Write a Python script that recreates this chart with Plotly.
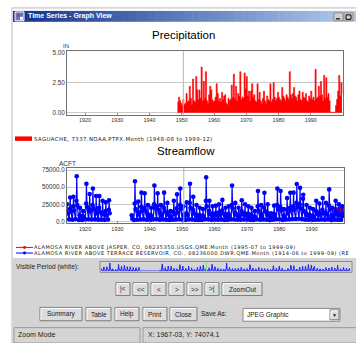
import plotly.graph_objects as go
import pandas as pd

# ---------------- data ----------------
x_tick_years = [1920, 1930, 1940, 1950, 1960, 1970, 1980, 1990]
precip_ticks = [0.0, 2.5, 5.0]
precip_ticktext = ["0.00", "2.50", "5.00"]
flow_ticks = [0, 25000, 50000, 75000]
flow_ticktext = ["0.0", "25000.0", "50000.0", "75000.0"]

# SAGUACHE precipitation, inches (4-month steps from 1948-09)
precip_start = "1948-09-01"
precip_in = [
    0.9,
    1.3, 1.0, 0.8,   # 1949
    0.6, 1.1, 0.7,   # 1950
    0.8, 1.6, 0.9,
    1.0, 2.2, 1.2,
    0.7, 2.8, 1.0,
    0.9, 3.0, 1.9,
    1.1, 1.9, 1.2,   # 1955
    3.8, 1.0, 2.6,
    1.2, 3.4, 1.0,
    0.8, 1.5, 2.2,
    1.9, 1.1, 0.9,
    1.0, 1.3, 2.4,   # 1960
    1.6, 1.0, 1.2,
    0.9, 1.7, 1.1,
    1.4, 1.5, 0.8,
    0.7, 1.2, 1.0,
    1.1, 2.3, 1.3,   # 1965
    3.2, 1.2, 2.2,
    1.0, 1.6, 1.4,
    3.4, 1.1, 1.3,
    1.2, 3.3, 2.0,
    3.0, 1.4, 1.8,   # 1970
    1.0, 1.8, 2.4,
    1.3, 1.5, 1.0,
    0.9, 2.4, 1.1,
    1.7, 1.0, 0.8,
    1.2, 1.8, 1.0,   # 1975
    0.8, 1.4, 1.1,
    1.0, 2.4, 0.9,
    1.1, 2.5, 1.3,
    1.0, 1.2, 1.7,
    1.3, 1.1, 1.0,   # 1980
    2.1, 1.4, 1.2,
    1.0, 1.5, 1.3,
    1.1, 3.4, 1.5,
    1.2, 1.6, 2.1,
    1.4, 1.3, 1.0,   # 1985
    1.5, 1.8, 1.1,
    1.0, 1.7, 1.3,
    1.2, 1.6, 1.0,
    0.9, 1.4, 1.2,
    1.8, 1.1, 1.3,   # 1990
    1.0, 3.6, 1.2,
    1.3, 2.2, 1.4,
    2.6, 1.5, 1.0,
    3.1, 1.2, 2.9,
    1.3, 1.6, 1.0,   # 1995
    0.05, 0.05, 0.05,
    0.05, 0.05, 0.6,
    1.1, 1.8, 3.1,
    1.4, 2.5, 1.6,   # 1999
]

# ALAMOSA RIVER ABOVE TERRACE RESERVOIR, acre-feet (Feb low, May rise, Jun peak, Aug fall)
sf_year = [1914, 1915, 1916, 1917, 1918, 1919, 1920, 1921, 1922, 1923, 1924, 1925, 1926, 1927,
           1934, 1935, 1936, 1937, 1938, 1939, 1940, 1941, 1942, 1943, 1944, 1945, 1946, 1947,
           1948, 1949, 1950, 1951, 1952, 1953, 1954, 1955, 1956, 1957, 1958, 1959, 1960, 1961,
           1962, 1963, 1964, 1965, 1966, 1967, 1968, 1969, 1970, 1971, 1972, 1973, 1974, 1975,
           1976, 1977, 1978, 1979, 1980, 1981, 1982, 1983, 1984, 1985, 1986, 1987, 1988, 1989,
           1990, 1991, 1992, 1993, 1994, 1995, 1996, 1997, 1998, 1999]
sf_low = [None, 3000, 2500, 3500, 2000, 2200, 3000, 3200, 2800, 3000, 2600, 2400, 2300, 2700,
          None, 2000, 2500, 2800, 3000, 2400, 2100, 3000, 3300, 2600, 2900, 2500, 2200, 2600,
          2800, 3100, 2300, 2100, 3000, 2700, 2000, 2200, 2000, 3200, 3000, 2300, 2500, 2600,
          2900, 2200, 2300, 3000, 2700, 2400, 2600, 2700, 2500, 2300, 2100, 3100, 2400, 2900,
          2500, 1900, 2400, 3200, 3100, 2200, 2800, 3200, 3500, 3600, 3800, 3300, 2600, 2400,
          2200, 2600, 2500, 2800, 2600, 3000, 2300, 2700, 2500, 2400]
sf_rise = [None, 18000, 22000, 30000, 9000, 8000, 26000, 18000, 24000, 16000, 20000, 12000, 15000, 17000,
           None, 26000, 14000, 21000, 20000, 11000, 9000, 25000, 22000, 12000, 20000, 13000, 8000, 14000,
           19000, 24000, 10000, 12000, 27000, 17000, 10000, 9000, 8500, 30000, 15000, 11000, 12000, 13000,
           16000, 10000, 11000, 24000, 13000, 9500, 15000, 12000, 11000, 10000, 7000, 22000, 11000, 20000,
           12000, 6000, 11000, 24000, 21000, 8500, 17000, 20000, 22000, 27000, 25000, 33000, 12000, 9500,
           8500, 15000, 13000, 17000, 13000, 23000, 9500, 15000, 12000, 11000]
sf_peak = [25000, 35000, 36000, 66000, 20000, 15000, 55000, 40000, 48000, 37000, 37000, 30000, 28000, 31000,
           9000, 58600, 29000, 42000, 41000, 24000, 20000, 52400, 41000, 24000, 42000, 27000, 15000, 30000,
           39500, 48000, 22000, 28000, 55000, 36000, 24000, 20000, 18000, 64300, 30000, 22000, 23000, 25000,
           31400, 20000, 22000, 52400, 27000, 20000, 31000, 25000, 22000, 20000, 15000, 44300, 24000, 41900,
           25000, 12000, 23000, 48100, 44300, 18000, 34000, 41900, 42000, 54700, 49000, 39000, 24000, 20000,
           18000, 30000, 26000, 34000, 27000, 46700, 20000, 30000, 25000, 22000]
sf_fall = [12000, 14000, 16000, 24000, 7000, 6000, 21000, 15000, 19000, 12000, 14000, 11000, 9000, 12000,
           4000, 18000, 10000, 15000, 16000, 8000, 6000, 20000, 17000, 9000, 15000, 10000, 5500, 11000,
           13000, 18000, 7000, 9000, 20000, 12000, 7000, 7500, 6000, 22000, 11000, 8000, 9000, 9500,
           12000, 7000, 8000, 19000, 10000, 7500, 11000, 9000, 8000, 7000, 5500, 16000, 8000, 15000,
           9000, 4500, 8500, 18000, 16000, 6000, 12000, 16000, 17000, 21000, 19000, 15000, 9000, 7000,
           6500, 11000, 9500, 12000, 10000, 17000, 7000, 11000, 9000, 8000]
sf_months = ["02-01", "05-01", "06-01", "08-01"]

# ALAMOSA RIVER ABOVE JASPER, acre-feet
jasper_dates = ["1995-07-01", "1995-10-01", "1996-02-01", "1996-06-01", "1996-09-01",
                "1997-02-01", "1997-06-01", "1997-08-01", "1998-02-01", "1998-06-01",
                "1998-08-01", "1999-02-01", "1999-06-01", "1999-09-01"]
jasper_acft = [8000, 3000, 1500, 9000, 3500, 2000, 18000, 16000, 2000, 19000,
               17000, 2500, 18500, 15000]

cursor_date = "1950-07-01"
x_range = ["1914-06-01", "1999-12-31"]

# ---------------- build series ----------------
precip_dates = pd.date_range(start=precip_start, periods=len(precip_in), freq="4MS")

sf_x, sf_y = [], []
prev = None
for yr, lo, ri, pk, fa in zip(sf_year, sf_low, sf_rise, sf_peak, sf_fall):
    if prev is not None and yr - prev > 1:
        sf_x.append(f"{prev + 2}-01-01")
        sf_y.append(None)
    for m, v in zip(sf_months, (lo, ri, pk, fa)):
        if v is None:
            continue
        sf_x.append(f"{yr}-{m}")
        sf_y.append(v)
    prev = yr

W, H = 356, 343
def px(x): return x / W
def py(y): return 1 - y / H

FONT = "Liberation Sans, Arial, sans-serif"
WIDE = "DejaVu Sans, Verdana, sans-serif"
shapes, annos = [], []

def rect(x0, y0, x1, y1, fill, line="rgba(0,0,0,0)", lw=0, layer="above"):
    shapes.append(dict(type="rect", xref="paper", yref="paper", x0=px(x0), x1=px(x1),
                       y0=py(y1), y1=py(y0), fillcolor=fill, layer=layer,
                       line=dict(color=line, width=lw)))

def hline(x0, x1, y, color, lw=1):
    shapes.append(dict(type="line", xref="paper", yref="paper", x0=px(x0), x1=px(x1),
                       y0=py(y), y1=py(y), line=dict(color=color, width=lw)))

def vline(x, y0, y1, color, lw=1):
    shapes.append(dict(type="line", xref="paper", yref="paper", x0=px(x), x1=px(x),
                       y0=py(y0), y1=py(y1), line=dict(color=color, width=lw)))

def dot(x, y, r, color):
    shapes.append(dict(type="circle", xref="paper", yref="paper", x0=px(x - r), x1=px(x + r),
                       y0=py(y + r), y1=py(y - r), fillcolor=color, line=dict(color=color, width=0)))

def text(x, y, s, size, color="#000000", anchor="left", bold=False, family=FONT, spacing=None):
    if bold:
        s = f"<b>{s}</b>"
    if spacing is not None:
        s = f'<span style="letter-spacing:{spacing}px">{s}</span>'
    annos.append(dict(xref="paper", yref="paper", x=px(x), y=py(y), text=s, showarrow=False,
                      xanchor=anchor, yanchor="middle", borderpad=0,
                      font=dict(size=size, color=color, family=family)))

def button(x0, y0, x1, y1, label, size=6.5):
    rect(x0, y0, x1, y1, "#dcdcdc", "#7a7a7a", 1)
    hline(x0 + 1, x1 - 1, y0 + 1, "#ffffff")
    vline(x0 + 1, y0 + 1, y1 - 1, "#ffffff")
    text((x0 + x1) / 2, (y0 + y1) / 2, label, size, "#202020", "center")

# window body border
rect(12, 5, 357, 344, "#ffffff", "#b8b8b8", 1, layer="below")
# gray control panel
rect(12.5, 258, 357, 344, "#d4d4d4", layer="below")

# title bar gradient
n = 48
c0, c1 = (20, 50, 140), (175, 202, 236)
for i in range(n):
    t = i / (n - 1)
    col = tuple(int(c0[k] + (c1[k] - c0[k]) * t) for k in range(3))
    xa = 13 + (357 - 13) * i / n
    xb = 13 + (357 - 13) * (i + 1) / n + 0.5
    rect(xa, 8, xb, 19, f"rgb{col}")
rect(15, 9, 24, 18, "#5a7ccc", "#ffffff", 1)
rect(17, 11, 20, 14, "#e03030")
rect(20, 14, 23, 17, "#ffffff")
text(27, 13.5, "Time Series - Graph View", 7, "#ffffff", bold=True)
rect(334, 10, 343, 18, "#d4d0c8", "#808080", 0.8)
hline(336, 340, 16, "#000000", 1.2)
rect(344, 10, 353, 18, "#d4d0c8", "#808080", 0.8)
rect(346, 12, 351, 16.5, "rgba(0,0,0,0)", "#000000", 1)

# titles / units
text(183, 32, "Precipitation", 11.5, "#000000", "center")
text(186, 150, "Streamflow", 11.5, "#000000", "center")
text(66, 43.5, "IN", 6, "#303030", "center")
text(67, 162, "ACFT", 6.5, "#303030", "center")

# precipitation legend
rect(15, 135, 32, 139.5, "#ff0000")
text(32.5, 137.3, "SAGUACHE, 7337.NOAA.PTPX.Month (1948-08 to 1999-12)", 5.4, "#202020",
     family=WIDE, spacing=0.4)

# streamflow legend
hline(16, 33, 247.3, "#ff0000", 1)
dot(24.5, 247.3, 1.5, "#ff0000")
text(33, 247.3, "ALAMOSA RIVER ABOVE JASPER, CO, 08235350.USGS.QME.Month (1995-07 to 1999-09)", 5.1,
     "#202020", family=WIDE, spacing=0.5)
hline(16, 33, 253, "#0000ff", 1)
dot(24.5, 253, 1.5, "#0000ff")
text(33, 253, "ALAMOSA RIVER ABOVE TERRACE RESERVOIR, CO., 08236000.DWR.QME.Month (1914-06 to 1999-09) (RE",
     5.1, "#202020", family=WIDE, spacing=0.5)

# visible period
text(15, 267.5, "Visible Period (white):", 6.5, "#202020")
shapes.append(dict(type="rect", xref="paper", yref="paper", x0=px(100), x1=px(352), y0=py(272.5),
                   y1=py(261.5), line=dict(color="#8a8a8a", width=1), fillcolor="rgba(0,0,0,0)"))

# navigation buttons
for x0, x1, lab in [(116, 130, "|&lt;"), (133, 148, "&lt;&lt;"), (151, 166, "&lt;"), (169, 184, "&gt;"),
                    (187, 202, "&gt;&gt;"), (205, 219, "&gt;|"), (222, 262, "ZoomOut")]:
    button(x0, 283, x1, 296, lab, 6.5)

# action buttons
for x0, x1, lab in [(40, 82, "Summary"), (86, 111, "Table"), (115, 139, "Help"),
                    (143, 167, "Print"), (170, 197, "Close")]:
    button(x0, 308, x1, 321.5, lab, 6.5)
text(200, 314.5, "Save As:", 6.5, "#202020")
rect(243, 309, 340, 322, "#ffffff", "#8a8a8a", 1)
text(246, 315.5, "JPEG Graphic", 6.5, "#202020")
button(330, 310.5, 339, 320.5, "▼", 5)

# status bar
rect(14, 328.5, 140, 344, "#d4d4d4", "#9a9a9a", 1)
text(16.5, 335.5, "Zoom Mode", 7, "#202020")
rect(143, 328.5, 357, 344, "#d4d4d4", "#9a9a9a", 1)
text(146.5, 335.5, "X: 1967-03, Y: 74074.1", 7, "#202020")

# cursor line in each plot
for xr, yr in [("x", "y domain"), ("x2", "y2 domain"), ("x3", "y3 domain")]:
    shapes.append(dict(type="line", xref=xr, yref=yr, x0=cursor_date, x1=cursor_date, y0=0, y1=1,
                       line=dict(color="#7fdc7f", width=1)))

# ---------------- traces ----------------
fig = go.Figure()
fig.add_trace(go.Scatter(x=precip_dates, y=precip_in, mode="lines", line=dict(color="#ff0000", width=0.6, shape="hv"),
                         fill="tozeroy", fillcolor="#ff0000", xaxis="x", yaxis="y", showlegend=False))
fig.add_trace(go.Scatter(x=jasper_dates, y=jasper_acft, mode="lines+markers",
                         line=dict(color="#c00030", width=1.2), marker=dict(color="#c00030", size=4),
                         xaxis="x2", yaxis="y2", showlegend=False))
fig.add_trace(go.Scatter(x=sf_x, y=sf_y, mode="lines+markers", line=dict(color="#0000ff", width=1.2),
                         marker=dict(color="#0000ff", size=4.6), xaxis="x2", yaxis="y2", showlegend=False))
fig.add_trace(go.Scatter(x=sf_x, y=sf_y, mode="lines", line=dict(color="#2020ff", width=1),
                         fill="tozeroy", fillcolor="rgba(60,60,255,0.5)",
                         xaxis="x3", yaxis="y3", showlegend=False))

tickvals_x = [f"{y}-01-01" for y in x_tick_years]
ticktext_x = [str(y) for y in x_tick_years]
common_x = dict(type="date", range=x_range, tickvals=tickvals_x, ticktext=ticktext_x,
                showline=True, mirror=True, linecolor="#707070", linewidth=1,
                ticks="inside", ticklen=2, tickcolor="#909090", showgrid=False, zeroline=False,
                tickfont=dict(size=5.5, color="#303030", family=FONT))
common_y = dict(showline=True, mirror=True, linecolor="#707070", linewidth=1, ticks="",
                showgrid=True, gridcolor="#c8c8c8", gridwidth=1, zeroline=False,
                tickfont=dict(size=6.3, color="#303030", family=FONT))

fig.update_layout(
    width=W, height=H, margin=dict(l=0, r=0, t=0, b=0), autosize=False,
    paper_bgcolor="#ffffff", plot_bgcolor="#ffffff",
    font=dict(family=FONT),
    xaxis=dict(domain=[px(67), px(343)], anchor="y", **common_x),
    yaxis=dict(domain=[py(113), py(49)], anchor="x", range=[-0.15, 5.08],
               tickvals=precip_ticks, ticktext=precip_ticktext, **common_y),
    xaxis2=dict(domain=[px(67), px(344)], anchor="y2", **common_x),
    yaxis2=dict(domain=[py(223), py(167)], anchor="x2", range=[-2900, 77900],
                tickvals=flow_ticks, ticktext=flow_ticktext, **common_y),
    xaxis3=dict(domain=[px(101), px(351)], anchor="y3", type="date", range=x_range, visible=False),
    yaxis3=dict(domain=[py(271.5), py(262.5)], anchor="x3", range=[0, 70000], visible=False),
    shapes=shapes, annotations=annos,
)

fig.write_html("out.html", config={"displayModeBar": False, "staticPlot": True},
               post_script="document.body.style.margin='0';document.body.style.overflow='hidden';")
